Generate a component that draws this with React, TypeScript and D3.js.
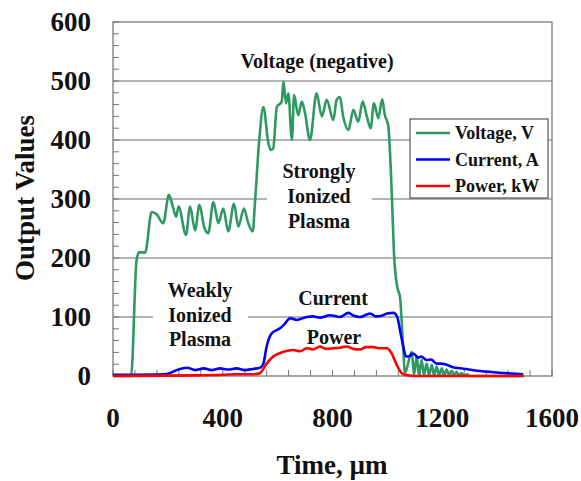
import React from "react";
import * as d3 from "d3";

const voltageT = [0, 66, 86, 96, 117, 141, 159, 183, 204, 218, 230, 239, 266, 281, 299, 315, 332, 347, 366, 384, 402, 420, 441, 457, 477, 493, 509, 518, 533, 548, 566, 575, 584, 597, 615, 621, 631, 639, 652, 660, 675, 688, 700, 718, 742, 761, 779, 803, 815, 827, 839, 858, 876, 894, 910, 925, 939, 951, 967, 981, 991, 1003, 1016, 1024, 1036, 1046, 1058, 1064, 1089, 1097, 1107, 1115, 1125, 1133, 1143, 1152, 1162, 1170, 1180, 1188, 1198, 1207, 1216, 1225, 1234, 1243, 1252, 1261, 1270, 1280, 1290, 1300, 1500];
const voltageV = [0, 0, 197, 210, 209, 278, 274, 259, 307, 287, 270, 287, 239, 287, 247, 290, 253, 242, 295, 259, 284, 245, 292, 253, 284, 259, 245, 298, 400, 456, 395, 383, 386, 456, 465, 499, 462, 479, 400, 476, 442, 465, 445, 400, 479, 440, 468, 434, 468, 473, 440, 417, 451, 431, 465, 440, 420, 462, 437, 469, 442, 425, 310, 208, 151, 134, 44, 5, 41, 2, 33, 2, 27, 1, 21, 1, 19, 1, 16, 1, 13, 1, 11, 1, 9, 1, 7, 1, 5, 1, 3, 0, 0];

const currentT = [0, 190, 244, 270, 300, 330, 360, 390, 420, 450, 480, 510, 536, 548, 560, 578, 609, 627, 645, 669, 706, 729, 754, 791, 827, 858, 878, 900, 937, 959, 979, 999, 1022, 1036, 1046, 1058, 1068, 1082, 1090, 1101, 1112, 1123, 1143, 1159, 1180, 1195, 1216, 1239, 1265, 1326, 1398, 1495];
const currentV = [2, 3, 12, 14, 10, 13, 10, 13, 11, 13, 10, 12, 14, 21, 50, 72, 81, 89, 98, 95, 100, 101, 99, 103, 100, 107, 102, 100, 106, 101, 102, 106, 107, 100, 78, 50, 33, 34, 38, 36, 31, 33, 27, 28, 21, 21, 19, 15, 13, 9, 6, 3];

const powerT = [0, 300, 400, 450, 500, 530, 536, 560, 584, 621, 657, 682, 706, 729, 754, 776, 803, 827, 852, 875, 900, 922, 949, 973, 998, 1016, 1034, 1052, 1064, 1100, 1495];
const powerV = [0, 1, 2, 3, 3, 4, 5, 21, 33, 41, 44, 42, 47, 45, 50, 46, 47, 48, 50, 46, 45, 49, 49, 47, 47, 38, 19, 5, 2, 0, 0];

const xTicks = [0, 400, 800, 1200, 1600];
const yTicks = [0, 100, 200, 300, 400, 500, 600];
const seriesNames = ["Voltage, V", "Current, A", "Power, kW"];
const seriesColors = ["#2e9a62", "#0000ff", "#ff0000"];

const FONT = "'Liberation Serif', 'Times New Roman', serif";

export default function App() {
  const x = d3.scaleLinear().domain([0, 1600]).range([113, 552]);
  const y = d3.scaleLinear().domain([0, 600]).range([376, 22]);
  const line = d3
    .line<[number, number]>()
    .x((d) => x(d[0]))
    .y((d) => y(d[1]))
    .curve(d3.curveMonotoneX);
  const mk = (ts: number[], vs: number[]) => ts.map((t, i) => [t, vs[i]] as [number, number]);
  const series = [mk(voltageT, voltageV), mk(currentT, currentV), mk(powerT, powerV)];
  const xMinor = d3.range(0, 1601, 80);
  const yMinor = d3.range(0, 601, 20);

  return (
    <svg width={581} height={481} style={{ position: "absolute", left: 0, top: 0, background: "#fff" }} fontFamily={FONT} fontWeight="bold">
      {/* gridlines */}
      {yTicks.filter((v) => v > 0 && v < 600).map((v) => (
        <line key={"g" + v} x1={x(0)} x2={x(1600)} y1={y(v)} y2={y(v)} stroke="#9a9a9a" strokeWidth={1.5} />
      ))}
      {/* plot frame */}
      <rect x={x(0)} y={y(600)} width={x(1600) - x(0)} height={y(0) - y(600)} fill="none" stroke="#8a8a8a" strokeWidth={1.5} />
      {/* ticks */}
      {yMinor.map((v) => (
        <line key={"yt" + v} x1={x(0)} x2={x(0) + 6} y1={y(v)} y2={y(v)} stroke="#777" strokeWidth={1} />
      ))}
      {xMinor.map((v) => (
        <line key={"xt" + v} x1={x(v)} x2={x(v)} y1={y(0)} y2={y(0) - 6} stroke="#777" strokeWidth={1} />
      ))}
      {/* label backgrounds */}
      <rect x={267} y={158} width={105} height={76} fill="#fff" />
      <rect x={153} y={278} width={95} height={72} fill="#fff" />
      {/* series */}
      {series.map((s, i) => (
        <path key={"s" + i} d={line(s) || ""} fill="none" stroke={seriesColors[i]} strokeWidth={2.6} strokeLinejoin="round" />
      ))}
      {/* tick labels */}
      {yTicks.map((v) => (
        <text key={"yl" + v} x={91} y={y(v) + 9} textAnchor="end" fontSize={27} fill="#111">{v}</text>
      ))}
      {xTicks.map((v) => (
        <text key={"xl" + v} x={x(v)} y={427} textAnchor="middle" fontSize={27} fill="#111">{v}</text>
      ))}
      {/* axis titles */}
      <text x={332} y={474} textAnchor="middle" fontSize={27} fill="#111">Time, µm</text>
      <text transform={`translate(34,${198}) rotate(-90)`} textAnchor="middle" fontSize={27} fill="#111">Output Values</text>
      {/* annotations */}
      <text x={317} y={68} textAnchor="middle" fontSize={20} fill="#111">Voltage (negative)</text>
      <text x={319} y={178} textAnchor="middle" fontSize={20} fill="#111">Strongly</text>
      <text x={319} y={203} textAnchor="middle" fontSize={20} fill="#111">Ionized</text>
      <text x={319} y={228} textAnchor="middle" fontSize={20} fill="#111">Plasma</text>
      <text x={200} y={297} textAnchor="middle" fontSize={20} fill="#111">Weakly</text>
      <text x={200} y={322} textAnchor="middle" fontSize={20} fill="#111">Ionized</text>
      <text x={200} y={346} textAnchor="middle" fontSize={20} fill="#111">Plasma</text>
      <text x={333} y={305} textAnchor="middle" fontSize={20} fill="#111">Current</text>
      <text x={334} y={344} textAnchor="middle" fontSize={20} fill="#111">Power</text>
      {/* legend */}
      <rect x={410} y={119} width={138} height={79} fill="#fff" stroke="#555" strokeWidth={1.2} />
      {seriesNames.map((n, i) => (
        <g key={"lg" + i}>
          <line x1={416} x2={450} y1={133 + i * 26.5} y2={133 + i * 26.5} stroke={seriesColors[i]} strokeWidth={2.6} />
          <text x={455} y={139 + i * 26.5} fontSize={18} fill="#111">{n}</text>
        </g>
      ))}
    </svg>
  );
}
